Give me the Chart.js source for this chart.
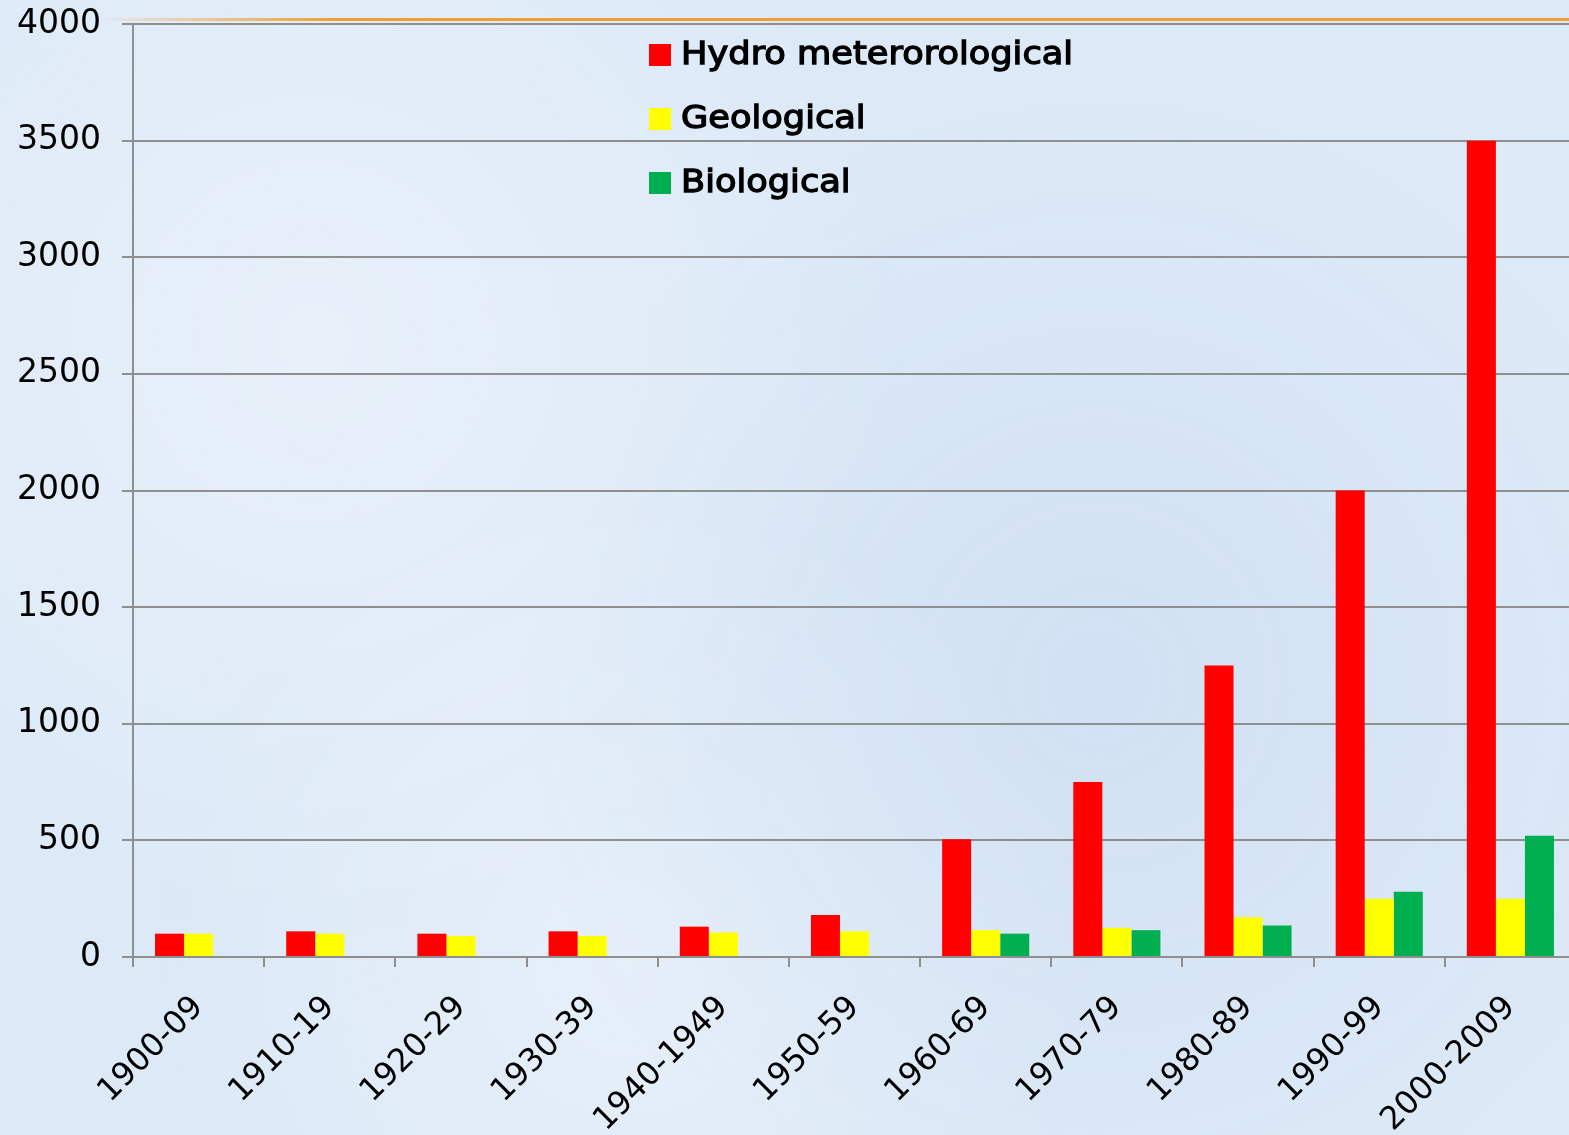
<!DOCTYPE html>
<html>
<head>
<meta charset="utf-8">
<script src="https://cdn.jsdelivr.net/npm/chart.js@4.4.1/dist/chart.umd.min.js"></script>
<style>
  html, body { margin: 0; padding: 0; overflow: hidden; }
  body {
    width: 1569px; height: 1135px;
    background: #dce9f7;
    background-image:
      radial-gradient(circle at 20% 30%, rgba(255,255,255,0.35) 0, rgba(255,255,255,0) 40%),
      radial-gradient(circle at 70% 60%, rgba(190,210,235,0.35) 0, rgba(190,210,235,0) 45%),
      radial-gradient(circle at 40% 85%, rgba(255,255,255,0.3) 0, rgba(255,255,255,0) 35%);
  }
  #wrap { position: absolute; left: 0; top: 0; width: 1576px; height: 1135px; }
</style>
</head>
<body>
<div id="wrap"><canvas id="myChart"></canvas></div>
<script>
const decades = ['1900-09', '1910-19', '1920-29', '1930-39', '1940-1949', '1950-59',
  '1960-69', '1970-79', '1980-89', '1990-99', '2000-2009'];
const hydro = [100, 110, 100, 110, 130, 180, 505, 750, 1250, 2000, 3500];
const geo = [100, 100, 90, 90, 105, 110, 115, 125, 170, 250, 250];
const bio = [null, null, null, null, null, null, 100, 115, 135, 280, 520];
const yTicks = [0, 500, 1000, 1500, 2000, 2500, 3000, 3500, 4000];

const gridGray = '#8f8f8f';

// vertical legend drawn at the top of the plot, plus the orange rule
const sideLegend = {
  id: 'sideLegend',
  afterDraw(chart) {
    const ctx = chart.ctx;
    const top = chart.chartArea.top;
    ctx.save();
    const g = ctx.createLinearGradient(95, 0, 330, 0);
    g.addColorStop(0, 'rgba(240,160,48,0)');
    g.addColorStop(1, 'rgba(240,160,48,1)');
    ctx.fillStyle = g;
    ctx.fillRect(95, top - 6, chart.width, 3);

    chart.data.datasets.forEach((ds, i) => {
      const cy = top + 31 + i * 64;
      ctx.fillStyle = ds.backgroundColor;
      ctx.fillRect(649, cy - 11, 22, 22);
      ctx.save();
      ctx.translate(681, cy + 1);
      ctx.scale(1.1, 1);
      ctx.font = '32px "DejaVu Sans"';
      ctx.textBaseline = 'middle';
      ctx.lineWidth = 1.3;
      ctx.fillStyle = '#000';
      ctx.strokeStyle = '#000';
      ctx.fillText(ds.label, 0, 0);
      ctx.strokeText(ds.label, 0, 0);
      ctx.restore();
    });
    ctx.restore();
  }
};

new Chart(document.getElementById('myChart'), {
  type: 'bar',
  data: {
    labels: decades,
    datasets: [
      { label: 'Hydro meterorological', data: hydro, backgroundColor: '#ff0000' },
      { label: 'Geological', data: geo, backgroundColor: '#ffff00' },
      { label: 'Biological', data: bio, backgroundColor: '#00b050' }
    ]
  },
  options: {
    responsive: true,
    maintainAspectRatio: false,
    animation: false,
    layout: { padding: { top: 24, right: 0, left: 0, bottom: 0 } },
    datasets: { bar: { barPercentage: 1, categoryPercentage: 0.664 } },
    plugins: { legend: { display: false }, tooltip: { enabled: false } },
    scales: {
      x: {
        grid: { drawOnChartArea: false, offset: true, tickLength: 10, color: gridGray, lineWidth: 2 },
        border: { color: gridGray, width: 2 },
        ticks: {
          autoSkip: false, minRotation: 45, maxRotation: 45, padding: 22, labelOffset: 0,
          color: '#000', font: { family: 'DejaVu Sans', size: 32 }
        },
        afterFit(scale) { scale.height = 178; scale.paddingLeft = 0; scale.paddingRight = 0; }
      },
      y: {
        min: 0, max: 4000,
        afterBuildTicks(scale) { scale.ticks = yTicks.map(v => ({ value: v })); },
        grid: { color: gridGray, lineWidth: 2, tickLength: 11 },
        border: { color: gridGray, width: 2 },
        ticks: {
          padding: 21, color: '#000', font: { family: 'DejaVu Sans', size: 33 },
          callback: v => String(v)
        },
        afterFit(scale) { scale.width = 133; scale.paddingTop = 0; scale.paddingBottom = 0; }
      }
    }
  },
  plugins: [sideLegend]
});
</script>
</body>
</html>
